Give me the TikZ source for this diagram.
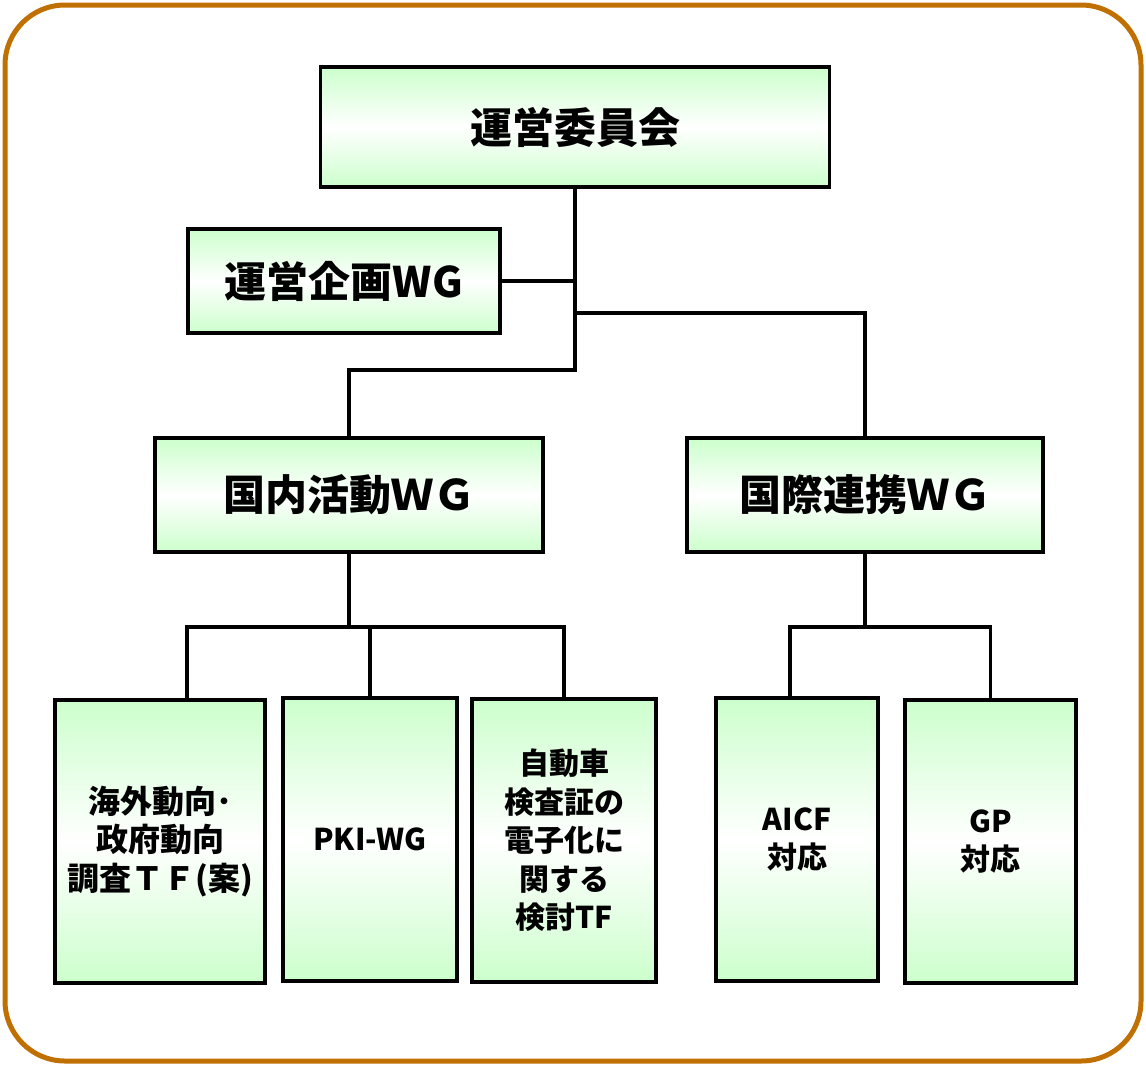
\documentclass[tikz,border=0pt]{standalone}
\usepackage{fontspec}
\newfontfamily\cjk{Noto Sans CJK JP}
\definecolor{boxgreen}{RGB}{204,255,204}
\definecolor{frameorange}{RGB}{192,112,0}
\tikzset{
  box/.style={draw=black, line width=3.3, rectangle, top color=boxgreen, bottom color=boxgreen, middle color=white, align=center, inner sep=0, font=\cjk\bfseries},
  big/.style={font=\cjk\bfseries\fontsize{42}{50}\selectfont},
  small/.style={font=\cjk\bfseries\fontsize{30}{38.5}\selectfont},
  smallb/.style={font=\cjk\bfseries\fontsize{32}{38.5}\selectfont},
  link/.style={draw=black, line width=3.3}
}
\begin{document}
\begin{tikzpicture}[x=1pt,y=-1pt]
\useasboundingbox (0,0) rectangle (1146,1066);
\draw[frameorange, line width=5, rounded corners=60] (5,5) rectangle (1141,1061);

\node[box, big, minimum width=509, minimum height=120] (top) at (575,127) {運営委員会};
\node[box, big, minimum width=312, minimum height=104] (plan) at (344,281) {運営企画WG};
\node[box, big, minimum width=388, minimum height=114] (dom) at (349,495) {国内活動ＷＧ};
\node[box, big, minimum width=356, minimum height=114] (intl) at (865,495) {国際連携ＷＧ};

\node[box, smallb, minimum width=210, minimum height=283] (b1) at (160,841.5) {海外動向･\\政府動向\\調査ＴＦ(案)};
\node[box, small, minimum width=174, minimum height=283] (b2) at (370,839.5) {PKI-WG};
\node[box, small, minimum width=184, minimum height=283] (b3) at (564,840.5) {自動車\\検査証の\\電子化に\\関する\\検討TF};
\node[box, small, minimum width=162, minimum height=283] (b4) at (797,839.5) {AICF\\対応};
\node[box, small, minimum width=171, minimum height=283] (b5) at (990.5,841.5) {GP\\対応};

\coordinate (j1) at (575,370);
\coordinate (j2) at (575,313);
\coordinate (d1) at (349,627);
\coordinate (i1) at (865,627);

\draw[link] (top.south) -- (j1) -| (dom.north);
\draw[link] (plan.east) -- (plan.east -| top.south);
\draw[link] (j2) -| (intl.north);

\draw[link] (dom.south) -- (d1);
\draw[link] ([xshift=27]b1.north) |- (b3.north |- d1) -- (b3.north);
\draw[link] (b2.north) -- (b2.north |- d1);

\draw[link] (intl.south) -- (i1);
\draw[link] ([xshift=-7]b4.north) |- (b5.north |- i1) -- (b5.north);
\end{tikzpicture}
\end{document}
